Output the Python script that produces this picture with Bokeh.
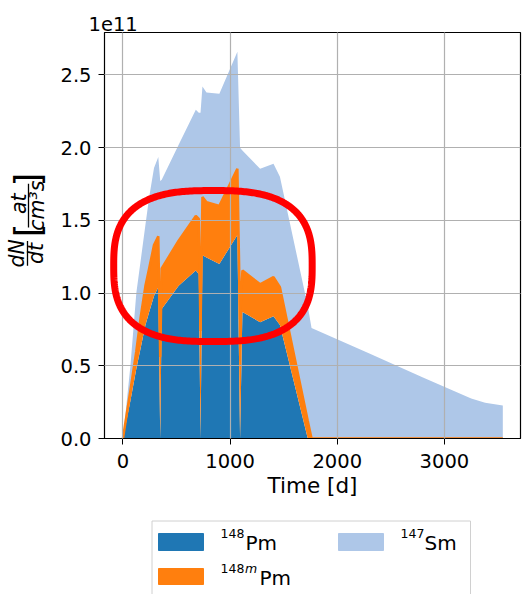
import numpy as np
from bokeh.plotting import figure
from bokeh.layouts import column, row
from bokeh.models import ColumnDataSource, Range1d, FixedTicker, PrintfTickFormatter
from bokeh.transform import stack
from bokeh.core.properties import value
from bokeh.embed import file_html
from bokeh.resources import INLINE

# ---- data (rates in units of 1e11 at/(cm^3 s)) ----
time_d = [0, 70, 125, 165, 210, 245, 290, 330, 348, 362, 520, 680, 708, 724,
          742, 780, 900, 1068, 1093, 1115, 1280, 1405, 1465, 1725, 1760,
          2300, 2800, 3250, 3380, 3545]
pm148 = [0, 0.26, 0.48, 0.62, 0.78, 0.87, 0.98, 1.04, 0, 0.89, 1.05, 1.155, 1.13, 0,
         1.26, 1.245, 1.20, 1.40, 0, 0.87, 0.80, 0.84, 0.78, 0, 0,
         0, 0, 0, 0, 0]
pm148m = [0, 0.07, 0.12, 0.21, 0.27, 0.30, 0.35, 0.35, 0.56, 0.28, 0.31, 0.375, 0.38, 0.74,
          0.40, 0.38, 0.40, 0.455, 0.82, 0.285, 0.26, 0.27, 0.26, 0.12, 0,
          0, 0, 0, 0, 0]
sm147 = [0, 0.17, 0.40, 0.39, 0.42, 0.49, 0.53, 0.545, 1.21, 0.61, 0.66, 0.73, 0.73, 1.50,
         0.76, 0.755, 0.77, 0.805, 1.18, 0.825, 0.795, 0.78, 0.76, 0.79, 0.76,
         0.585, 0.42, 0.275, 0.245, 0.227]

x_ticks = [0, 1000, 2000, 3000]
y_ticks = [0.0, 0.5, 1.0, 1.5, 2.0, 2.5]
series_names = ["pm148", "pm148m", "sm147"]
series_colors = ["#1f77b4", "#ff7f0e", "#aec7e8"]

FONT = "DejaVu Sans"

# ---- main stacked-area plot ----
p = figure(width=473, height=510, x_range=Range1d(-172, 3710), y_range=Range1d(0, 2.792),
           output_backend="svg", toolbar_location=None,
           min_border_left=54, min_border_right=3, min_border_top=32, min_border_bottom=72)
p.background_fill_color = "white"
p.border_fill_color = "white"

src = ColumnDataSource(dict(t=time_d, pm148=pm148, pm148m=pm148m, sm147=sm147))
p.varea_stack(stackers=series_names, x="t", color=series_colors, source=src)
p.line(x="t", y=stack("pm148", "pm148m"), source=src, line_color=series_colors[1], line_width=2.5)

# highlight ring around the irradiation cycles
ring_cx, ring_cy, ring_ax, ring_ay, ring_n = 840, 1.186, 926, 0.519, 2.8
theta = np.linspace(0, 2 * np.pi, 400)
ring_x = ring_cx + ring_ax * np.sign(np.cos(theta)) * np.abs(np.cos(theta)) ** (2 / ring_n)
ring_y = ring_cy + ring_ay * np.sign(np.sin(theta)) * np.abs(np.sin(theta)) ** (2 / ring_n)
p.line(ring_x, ring_y, line_color="#ff0000", line_width=7, level="overlay")

p.xaxis.ticker = FixedTicker(ticks=x_ticks)
p.yaxis.ticker = FixedTicker(ticks=y_ticks)
p.yaxis.formatter = PrintfTickFormatter(format="%.1f")
for ax in (p.xaxis[0], p.yaxis[0]):
    ax.major_label_text_font = FONT
    ax.major_label_text_font_size = "19.5px"
    ax.major_label_text_color = "black"
    ax.major_tick_out = 6
    ax.major_tick_in = 0
    ax.minor_tick_line_color = None
    ax.axis_line_color = "black"
    ax.major_tick_line_color = "black"
p.yaxis.major_label_standoff = 7
p.xaxis.major_label_standoff = 9
p.xaxis.axis_label = "Time [d]"
p.xaxis.axis_label_text_font = FONT
p.xaxis.axis_label_text_font_size = "21.5px"
p.xaxis.axis_label_text_font_style = "normal"
p.xaxis.axis_label_text_color = "black"
p.xaxis.axis_label_standoff = 2

for g in (p.xgrid[0], p.ygrid[0]):
    g.grid_line_color = "#b0b0b0"
    g.grid_line_width = 1.2
    g.level = "guide"
p.outline_line_color = "black"
p.outline_line_width = 1.2

p.title.text = "1e11"
p.title.text_font = FONT
p.title.text_font_size = "19.5px"
p.title.text_font_style = "normal"
p.title.text_color = "black"
p.title.align = "left"
p.title.offset = -16
p.title.standoff = 4

# ---- y-axis label: dN/dt [at / cm^3 s] ----
lab = figure(width=50, height=510, x_range=Range1d(0, 50), y_range=Range1d(510, 0),
             output_backend="svg", toolbar_location=None, min_border=0,
             x_axis_location=None, y_axis_location=None)
lab.outline_line_color = None
lab.grid.visible = False
frac_parts = dict(x=[16, 35.5, 18.5, 36.5], y=[277.5, 277.5, 215, 217.5],
                  text=["dN", "dt", "at", "cm\u00b3s"])
lab.text(x="x", y="y", text="text", source=ColumnDataSource(frac_parts), angle=np.pi / 2,
         text_font=value(FONT), text_font_size="20.5px", text_font_style="italic",
         text_align="center", text_baseline="middle", text_color="black")
lab.text(x=[27.5, 27.5], y=[248.5, 185], text=["[", "]"], angle=np.pi / 2,
         text_font=value(FONT), text_font_size="35px",
         text_align="center", text_baseline="middle", text_color="black")
lab.segment(x0=[27, 28], y0=[262, 190], x1=[27, 28], y1=[293, 245],
            line_color="black", line_width=1.3)

# ---- legend below the plot ----
leg = figure(width=523, height=84, x_range=Range1d(0, 523), y_range=Range1d(594, 510),
             output_backend="svg", toolbar_location=None, min_border=0,
             x_axis_location=None, y_axis_location=None)
leg.outline_line_color = None
leg.grid.visible = False
leg.quad(left=[151.5], right=[470], top=[520.5], bottom=[600], fill_color="white",
         line_color="#d0d0d0", line_width=1)
leg.quad(left=[158, 158, 338], right=[203, 203, 383], top=[533, 568, 533],
         bottom=[550, 584, 550], color=[series_colors[0], series_colors[1], series_colors[2]])
leg.text(x=[220, 220, 400], y=[533, 568, 533], text=["148", "148", "147"],
         text_font=value(FONT), text_font_size="12.5px", text_baseline="alphabetic",
         text_color="black")
leg.text(x=[244.5], y=[568], text=["m"], text_font=value(FONT), text_font_size="12.5px",
         text_font_style="italic", text_baseline="alphabetic", text_color="black")
leg.text(x=[245, 259, 424], y=[542, 577, 542], text=["Pm", "Pm", "Sm"],
         text_font=value(FONT), text_font_size="20px", text_baseline="alphabetic",
         text_color="black")

layout = column(row(lab, p), leg)
open("out.html", "w").write(file_html(layout, INLINE))
